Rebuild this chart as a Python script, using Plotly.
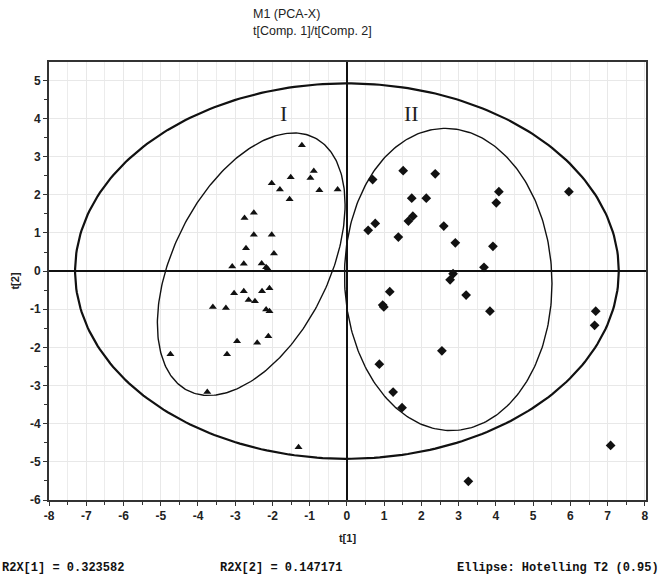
import numpy as np
import plotly.graph_objects as go

# Group I (triangles) scores
g1_t1 = [-1.21, -0.89, -0.98, -1.51, -2.02, -1.80, -0.74, -0.25, -1.54, -2.50,
         -2.75, -2.50, -2.02, -2.71, -1.96, -3.08, -2.77, -2.29, -2.17, -2.13,
         -3.03, -2.77, -2.28, -2.08, -2.64, -2.47, -3.60, -3.25, -2.17, -2.08,
         -2.95, -2.41, -2.11, -3.22, -4.74, -3.75, -1.30]
g1_t2 = [3.30, 2.62, 2.44, 2.46, 2.30, 2.14, 2.12, 2.14, 1.88, 1.53,
         1.39, 0.95, 0.95, 0.60, 0.46, 0.12, 0.19, 0.20, 0.10, 0.06,
         -0.58, -0.53, -0.53, -0.45, -0.76, -0.79, -0.94, -0.97, -1.01, -1.05,
         -1.84, -1.88, -1.71, -2.18, -2.18, -3.17, -4.62]

# Group II (diamonds) scores
g2_t1 = [0.69, 1.51, 2.37, 4.08, 4.01, 1.74, 2.13, 5.96, 1.77, 1.65,
         0.76, 0.57, 1.38, 2.60, 2.91, 3.92, 3.68, 2.85, 2.77, 1.15,
         0.96, 0.99, 3.20, 3.84, 6.68, 6.65, 2.55, 0.87, 1.24, 1.48,
         7.08, 3.26]
g2_t2 = [2.40, 2.63, 2.55, 2.08, 1.79, 1.91, 1.91, 2.08, 1.44, 1.31,
         1.25, 1.07, 0.89, 1.18, 0.74, 0.65, 0.10, -0.07, -0.23, -0.54,
         -0.89, -0.94, -0.63, -1.05, -1.05, -1.42, -2.09, -2.44, -3.17, -3.58,
         -4.57, -5.51]

# Ellipse parameters: centre and covariance-like shape matrix [sxx, sxy, syy]
hotelling_center = [0.0, 0.0]
hotelling_shape = [7.3 ** 2, 0.0, 4.92 ** 2]
group1_center = [-2.57, 0.18]
group1_shape = [6.35, 3.93, 11.83]
group2_center = [2.72, -0.22]
group2_shape = [7.76, -0.3, 15.68]

x_ticks = list(range(-8, 9))
y_ticks = list(range(-6, 6))

title_lines = ["M1 (PCA-X)", "t[Comp. 1]/t[Comp. 2]"]
footer = ["R2X[1] = 0.323582", "R2X[2] = 0.147171", "Ellipse: Hotelling T2 (0.95)"]


def ellipse(center, shape, n=300):
    t = np.linspace(0, 2 * np.pi, n)
    sxx, sxy, syy = shape
    l11 = np.sqrt(sxx)
    l21 = sxy / l11
    l22 = np.sqrt(syy - l21 ** 2)
    x = center[0] + l11 * np.cos(t)
    y = center[1] + l21 * np.cos(t) + l22 * np.sin(t)
    return x, y


fig = go.Figure()

for c, s, w in [(hotelling_center, hotelling_shape, 2.2),
                (group1_center, group1_shape, 1.4),
                (group2_center, group2_shape, 1.4)]:
    ex, ey = ellipse(c, s)
    fig.add_trace(go.Scatter(x=ex, y=ey, mode="lines",
                             line=dict(color="#111111", width=w),
                             hoverinfo="skip", showlegend=False))

fig.add_trace(go.Scatter(x=g1_t1, y=g1_t2, mode="markers",
                         marker=dict(symbol="triangle-up", size=7, color="#111111"),
                         showlegend=False))
fig.add_trace(go.Scatter(x=g2_t1, y=g2_t2, mode="markers",
                         marker=dict(symbol="diamond", size=7.5, color="#111111"),
                         showlegend=False))

tickfont = dict(family="Liberation Sans, Arial, sans-serif", size=12,
                color="#222222", weight="bold")

L, R, T, B = 49, 13, 62, 79
PW, PH = 659 - L - R, 579 - T - B


def px_to_paper(px, py):
    return (px - L) / PW, (579 - B - py) / PH


fig.update_layout(
    width=659, height=579,
    margin=dict(l=L, r=R, t=T, b=B, autoexpand=False),
    paper_bgcolor="white", plot_bgcolor="white",
    xaxis=dict(range=[-8, 8.03], tickvals=x_ticks,
               ticktext=["<b>%d</b>" % v for v in x_ticks],
               automargin=False,
               showgrid=True, gridcolor="#e8e8e8", gridwidth=1,
               minor=dict(dtick=0.5, showgrid=True, gridcolor="#ececec",
                          ticks="outside", ticklen=3, tickcolor="#333333"),
               zeroline=True, zerolinecolor="#111111", zerolinewidth=1.5,
               showline=True, linecolor="#333333", linewidth=2, mirror=True,
               ticks="outside", ticklen=4, tickcolor="#333333",
               tickfont=tickfont,
               title=dict(text="<b>t[1]</b>", standoff=12,
                          font=dict(family="Liberation Sans, Arial, sans-serif",
                                    size=11, color="#222222"))),
    yaxis=dict(range=[-6, 5.48], tickvals=y_ticks,
               ticktext=["<b>%d</b>" % v for v in y_ticks],
               automargin=False,
               showgrid=True, gridcolor="#e8e8e8", gridwidth=1,
               minor=dict(dtick=0.5, showgrid=False,
                          ticks="outside", ticklen=3, tickcolor="#333333"),
               zeroline=True, zerolinecolor="#111111", zerolinewidth=1.5,
               showline=True, linecolor="#333333", linewidth=2, mirror=True,
               ticks="outside", ticklen=4, tickcolor="#333333",
               tickfont=tickfont,
               title=dict(text="<b>t[2]</b>", standoff=8,
                          font=dict(family="Liberation Sans, Arial, sans-serif",
                                    size=11, color="#222222"))),
)

# Title (two lines)
for txt, py in zip(title_lines, [14, 31]):
    xp, yp = px_to_paper(251, py)
    fig.add_annotation(xref="paper", yref="paper", x=xp, y=yp,
                       xanchor="left", yanchor="middle", text=txt,
                       showarrow=False,
                       font=dict(family="Liberation Sans, Arial, sans-serif",
                                 size=12.5, color="#222222"))

# Group labels
for txt, xx in [("I", -1.7), ("II", 1.73)]:
    fig.add_annotation(x=xx, y=4.13, text=txt, showarrow=False,
                       font=dict(family="Liberation Serif, Times New Roman, serif",
                                 size=22, color="#222222"))

# Footer text
mono = dict(family="Liberation Mono, Courier New, monospace", size=12,
            color="#111111")
for txt, px in zip(footer, [0, 218, 455]):
    xp, yp = px_to_paper(px, 568)
    fig.add_annotation(xref="paper", yref="paper", x=xp, y=yp,
                       xanchor="left", yanchor="middle", text="<b>%s</b>" % txt,
                       showarrow=False, font=mono)

fig.write_html("out.html",
               config={"displayModeBar": False},
               post_script="document.body.style.margin='0';"
                           "document.body.style.overflow='hidden';")
